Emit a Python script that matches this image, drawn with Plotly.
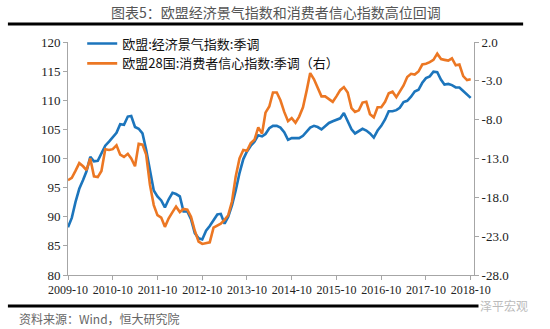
import pandas as pd
import plotly.graph_objects as go

dates = pd.date_range("2009-10-01", periods=109, freq="MS")

esi = [88.2, 89.8, 92.5, 94.8, 96.3, 97.8, 100.3, 99.5, 99.6, 101.0,
       102.2, 102.9, 103.6, 104.4, 105.9, 105.8, 107.2, 107.3, 105.4, 105.1,
       104.3, 101.5, 98.0, 94.5, 93.5, 92.8, 91.6, 93.0, 94.1, 93.9,
       93.5, 90.9, 90.9, 89.6, 87.2, 86.3, 86.1, 87.6, 88.4, 89.5,
       90.4, 90.5, 88.8, 90.0, 92.0, 94.5, 97.5, 99.9, 101.2, 102.2,
       102.9, 104.0, 103.8, 104.2, 105.2, 105.6, 105.6, 105.3, 104.5, 103.2,
       103.5, 103.5, 103.5, 103.9, 104.6, 105.3, 105.6, 105.4, 105.0, 105.6,
       106.1, 106.4, 106.7, 106.9, 107.8, 106.3, 105.0, 104.3, 104.7, 105.1,
       104.8, 104.3, 103.6, 104.8, 105.6, 106.7, 108.1, 108.1, 108.3, 108.7,
       109.7, 109.9, 110.6, 111.5, 111.8, 113.0, 113.8, 114.1, 114.9, 114.8,
       113.5, 112.7, 112.8, 112.6, 112.2, 112.2, 111.6, 110.9, 110.4]

conf = [-15.8, -15.5, -14.6, -13.6, -14.0, -14.5, -13.0, -15.3, -15.4, -14.6,
        -11.8, -11.9, -11.8, -11.3, -12.5, -12.8, -12.4, -13.0, -14.0, -11.1,
        -11.2, -12.5, -16.4, -19.0, -20.3, -20.6, -21.8, -20.7, -19.9, -19.2,
        -19.9, -19.5, -19.6, -20.5, -22.3, -23.7, -24.0, -23.9, -23.8, -21.9,
        -21.6, -21.4, -20.9, -20.3, -18.5, -15.3, -13.0, -11.9, -12.0, -11.0,
        -10.6, -9.0, -9.8, -7.1, -6.3, -4.5, -4.5, -5.5, -7.0, -8.2,
        -7.8, -8.4, -7.6, -6.4, -4.2, -2.0, -2.8, -3.8, -5.0, -5.0,
        -5.3, -5.7, -5.0, -4.2, -3.8, -4.5, -6.5, -7.0, -6.8, -5.8,
        -5.7, -7.3, -7.7, -6.4, -6.4, -5.7, -4.6, -4.4, -5.1, -4.4,
        -3.6, -2.5, -2.1, -2.2, -1.8, -0.9, -0.8, -0.6, -0.3, 0.5,
        -0.2, -0.3, -0.4, -0.1, -1.0, -0.9, -2.4, -2.9, -2.8]

name_esi = "欧盟:经济景气指数:季调"
name_conf = "欧盟28国:消费者信心指数:季调（右）"
title = "图表5：欧盟经济景气指数和消费者信心指数高位回调"
source = "资料来源：Wind，恒大研究院"
watermark = "泽平宏观"

xtick_vals = pd.date_range("2009-10-01", "2018-10-01", freq="12MS")
xtick_text = [d.strftime("%Y-%m") for d in xtick_vals]
y2_ticks = [-28, -23, -18, -13, -8, -3, 2]

blue = "#1C75BC"
orange = "#EC7723"
axis_col = "#A6A6A6"
tick_font = dict(family="Liberation Serif", size=13, color="#222")
xtick_font = dict(family="Liberation Serif", size=12, color="#222")

fig = go.Figure()
fig.add_trace(go.Scatter(x=dates, y=esi, name=name_esi, mode="lines",
                         line=dict(color=blue, width=2.6)))
fig.add_trace(go.Scatter(x=dates, y=conf, name=name_conf, mode="lines",
                         line=dict(color=orange, width=2.6), yaxis="y2"))

fig.update_layout(
    width=550, height=329,
    margin=dict(l=68, r=76, t=42, b=54),
    paper_bgcolor="white", plot_bgcolor="white",
    showlegend=True,
    legend=dict(x=0.035, y=1.058, xanchor="left", yanchor="top",
                bgcolor="rgba(0,0,0,0)", tracegroupgap=0,
                font=dict(family="Noto Sans CJK SC", size=13, color="#111"),
                itemwidth=30),
    xaxis=dict(range=["2009-10-01", "2018-10-28"], tickvals=xtick_vals,
               ticktext=xtick_text, tickangle=0, showgrid=False, showline=True,
               linecolor=axis_col, linewidth=1, ticks="outside",
               tickcolor=axis_col, ticklen=4, tickfont=xtick_font, zeroline=False),
    yaxis=dict(range=[80, 120], dtick=5, tick0=80, showgrid=False, showline=True,
               linecolor=axis_col, linewidth=1, ticks="outside", tickcolor=axis_col,
               ticklen=4, tickfont=tick_font, zeroline=False),
    yaxis2=dict(range=[-28, 2], tickvals=y2_ticks,
                ticktext=[f"{v:.1f}" for v in y2_ticks],
                overlaying="y", side="right", showgrid=False, showline=True,
                linecolor=axis_col, linewidth=1, ticks="outside", tickcolor=axis_col,
                ticklen=4, tickfont=tick_font, zeroline=False),
)

fig.add_annotation(text=title, xref="paper", yref="paper", x=0.512, y=1.13,
                   xanchor="center", yanchor="middle", showarrow=False,
                   font=dict(family="Noto Sans CJK SC", size=14, color="#555"))
fig.add_shape(type="line", xref="paper", yref="paper", x0=-0.148, x1=1.121,
              y0=1.077, y1=1.077, line=dict(color="black", width=3))
fig.add_shape(type="line", xref="paper", yref="paper", x0=-0.148, x1=1.09,
              y0=-0.133, y1=-0.133, line=dict(color="black", width=3))
fig.add_annotation(text=source, xref="paper", yref="paper", x=-0.125, y=-0.185,
                   xanchor="left", yanchor="middle", showarrow=False,
                   font=dict(family="Noto Sans CJK SC", size=12, color="#666"))
fig.add_annotation(text=watermark, xref="paper", yref="paper", x=1.01, y=-0.13,
                   xanchor="left", yanchor="middle", showarrow=False,
                   bgcolor="white",
                   font=dict(family="Noto Sans CJK SC", size=12, color="#BBB"))

fig.write_html("out.html")
